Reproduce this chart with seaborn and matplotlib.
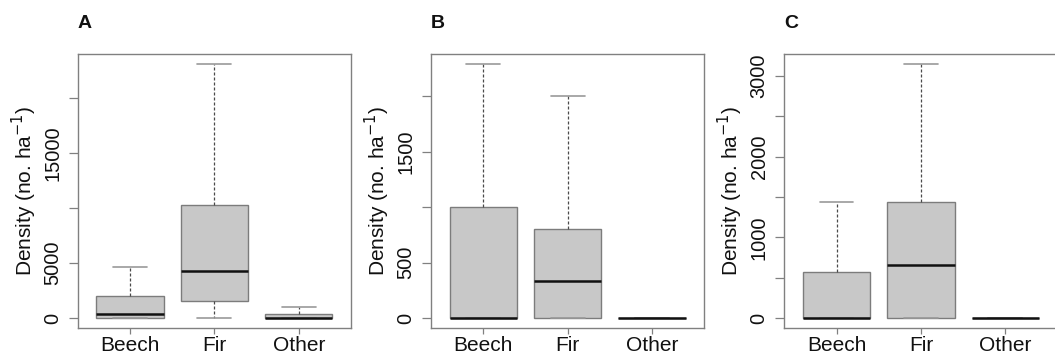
import numpy as np
import pandas as pd
import matplotlib
matplotlib.use("Agg")
import matplotlib.pyplot as plt
import seaborn as sns

# Species groups shown on every panel
species = ["Beech", "Fir", "Other"]

# Five-number summaries (min, lower quartile, median, upper quartile, max) in no. ha^-1
a_beech = [0, 0, 420, 1980, 4660]
a_fir = [0, 1570, 4270, 10300, 23030]
a_other = [0, 0, 0, 420, 1000]

b_beech = [0, 0, 0, 1000, 2288]
b_fir = [0, 0, 334, 800, 2000]
b_other = [0, 0, 0, 0, 0]

c_beech = [0, 0, 0, 567, 1432]
c_fir = [0, 0, 662, 1441, 3143]
c_other = [0, 0, 0, 0, 0]

panel_letters = ["A", "B", "C"]
panel_ticks = [
    [0, 5000, 10000, 15000, 20000],
    [0, 500, 1000, 1500, 2000],
    [0, 500, 1000, 1500, 2000, 2500, 3000],
]
panel_ticklabels = [
    ["0", "5000", "", "15000", ""],
    ["0", "500", "", "1500", ""],
    ["0", "", "1000", "", "2000", "", "3000"],
]

panels = [
    [a_beech, a_fir, a_other],
    [b_beech, b_fir, b_other],
    [c_beech, c_fir, c_other],
]

sns.set_style("white")
plt.rcParams["font.family"] = ["Liberation Sans", "DejaVu Sans"]

FRAME = "#808080"
FILL = "#c8c8c8"
EDGE = "#7c7c7c"
TEXT = "#111111"

W, H = 1055, 356
fig = plt.figure(figsize=(W / 100, H / 100), dpi=100)

lefts = [77.7, 431.0, 784.3]
ax_w = 273.3
ax_top, ax_bottom = 54.0, 328.3

for letter, groups, ticks, labels, left in zip(
    panel_letters, panels, panel_ticks, panel_ticklabels, lefts
):
    ax = fig.add_axes([left / W, 1 - ax_bottom / H, ax_w / W, (ax_bottom - ax_top) / H])

    df = pd.DataFrame(
        {
            "species": np.repeat(species, 5),
            "density": np.concatenate([np.asarray(g, dtype=float) for g in groups]),
        }
    )

    sns.boxplot(
        data=df, x="species", y="density", ax=ax,
        order=species, whis=(0, 100), width=0.8, saturation=1,
        color=FILL, linecolor=EDGE, linewidth=1.0, showfliers=False,
        medianprops=dict(color=TEXT, linewidth=1.8, zorder=5),
        whiskerprops=dict(color="#4a4a4a", linewidth=0.9, linestyle=(0, (2.4, 1.6))),
        capprops=dict(color="#999999", linewidth=1.2),
    )

    vals = df["density"].to_numpy()
    lo, hi = vals.min(), vals.max()
    pad = 0.04 * (hi - lo)
    ax.set_ylim(lo - pad, hi + pad)
    ax.set_xlim(-0.62, 2.62)

    ax.set_yticks(ticks)
    ax.set_yticklabels(labels, rotation=90, va="center", fontsize=14.4)
    ax.tick_params(axis="y", length=6.7, width=0.9, color=FRAME, pad=4.6,
                   left=True, labelcolor=TEXT)
    ax.tick_params(axis="x", length=4.2, width=0.9, color=FRAME, pad=1.0,
                   bottom=True, labelsize=15, labelcolor=TEXT)

    ax.set_xlabel("")
    ax.set_ylabel("Density (no. ha$^{-1}$)", fontsize=15, color=TEXT)
    ax.yaxis.set_label_coords(-39.0 / ax_w, 0.5)

    for sp in ax.spines.values():
        sp.set_visible(True)
        sp.set_color(FRAME)
        sp.set_linewidth(1.0)

    ax.text(0.0, 1 + 25.7 / (ax_bottom - ax_top), letter, transform=ax.transAxes,
            ha="left", va="baseline", fontsize=14, fontweight="bold", color=TEXT)

fig.savefig("out.png", dpi=100)
